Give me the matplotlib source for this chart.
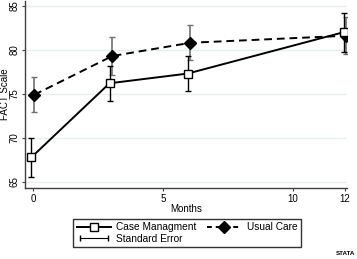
#!/usr/bin/env python3
# FACT scale over time, case management vs usual care

import matplotlib
matplotlib.use('Agg')
import matplotlib.pyplot as plt
from matplotlib.lines import Line2D
from matplotlib.legend_handler import HandlerLine2D

# data
months = [0, 3, 6, 12]
case_mgmt = [67.8, 76.2, 77.3, 82.0]
case_mgmt_se = [2.2, 2.0, 2.0, 2.2]
usual_care = [74.9, 79.3, 80.8, 81.6]
usual_care_se = [2.0, 2.2, 2.0, 2.1]
x_ticks = [0, 5, 10, 12]
y_ticks = [65, 70, 75, 80, 85]

plt.rcParams['font.family'] = ['Liberation Sans', 'DejaVu Sans']

fig = plt.figure(figsize=(3.57, 2.59), dpi=100)
ax = fig.add_axes([0.070, 0.274, 0.902, 0.724])

# slight horizontal offset so the two error bars don't overlap
cm_x = [m - 0.06 for m in months]
uc_x = [m + 0.05 for m in months]

for y in y_ticks:
    ax.axhline(y, color='#e6eeee', lw=1.0, zorder=0)

ax.errorbar(uc_x, usual_care, yerr=usual_care_se, fmt='none',
            ecolor='#707070', elinewidth=1.2, capsize=2.5, capthick=1.0, zorder=2)
ax.errorbar(cm_x, case_mgmt, yerr=case_mgmt_se, fmt='none',
            ecolor='black', elinewidth=1.0, capsize=2.5, capthick=1.0, zorder=2)

ax.plot(uc_x, usual_care, color='black', lw=1.4, ls=(0, (4, 2.5)),
        marker='D', markersize=6, markerfacecolor='black', zorder=3)
ax.plot(cm_x, case_mgmt, color='black', lw=1.4, ls='-',
        marker='s', markersize=6, markerfacecolor='white',
        markeredgecolor='black', markeredgewidth=1.0, zorder=4)

ax.set_xlim(-0.31, 12.07)
ax.set_ylim(64.3, 85.6)
ax.set_xticks(x_ticks)
ax.set_yticks(y_ticks)
ax.set_yticklabels([str(v) for v in y_ticks], rotation=90, va='center')
ax.tick_params(labelsize=7, length=2.5, width=0.8, color='#404040', pad=1.5)

for side in ['top', 'right']:
    ax.spines[side].set_visible(False)
for side in ['left', 'bottom']:
    ax.spines[side].set_color('#404040')
    ax.spines[side].set_linewidth(1.0)

ax.set_xlabel('Months', fontsize=7, labelpad=0.5)
ax.set_ylabel('FACT Scale', fontsize=7, va='center')
ax.yaxis.set_label_coords(-0.062, 0.5)

# legend
h_cm = Line2D([], [], color='black', lw=1.4, marker='s', markersize=6,
              markerfacecolor='white', markeredgecolor='black')
h_se = Line2D([], [], color='black', lw=0.8, marker='|', markersize=4)
h_uc = Line2D([], [], color='black', lw=1.4, ls=(0, (2.5, 2)), marker='D',
              markersize=6, markerfacecolor='black')
leg = ax.legend([h_cm, h_se, h_uc], ['Case Managment', 'Standard Error', 'Usual Care'],
                ncol=2, fontsize=7.3, frameon=True, fancybox=False,
                loc='center', bbox_to_anchor=(0.524, 0.100), bbox_transform=fig.transFigure,
                handlelength=3.4, handletextpad=0.5, columnspacing=1.0,
                labelspacing=0.15, borderpad=0.35,
                handler_map={h_se: HandlerLine2D(numpoints=2)})
leg.get_frame().set_edgecolor('black')
leg.get_frame().set_linewidth(1.0)

fig.text(0.995, 0.012, 'STATA', fontsize=4.5, ha='right', va='bottom',
         fontweight='bold', color='black')

plt.savefig('out.png', dpi=100)
